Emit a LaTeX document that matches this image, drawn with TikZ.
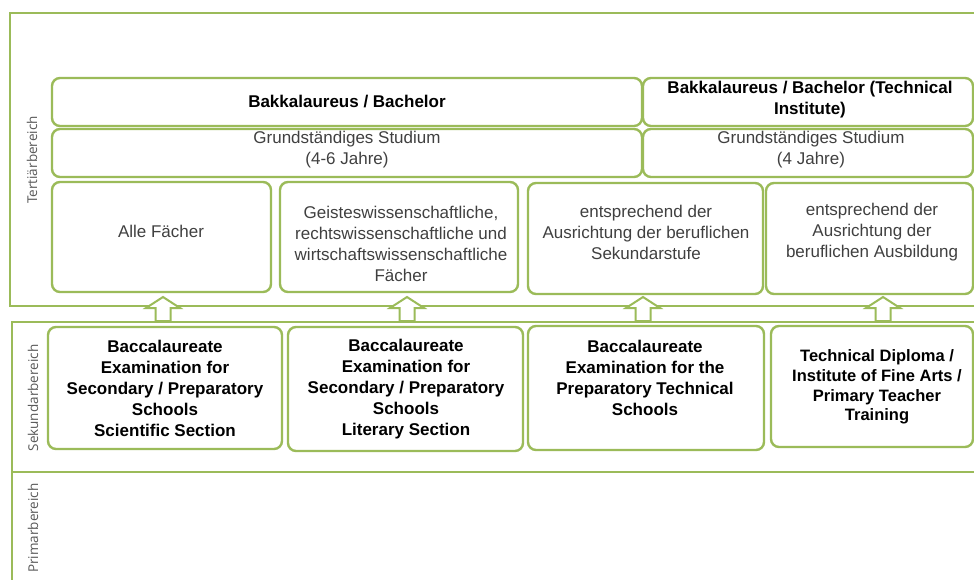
\documentclass[tikz,border=0pt]{standalone}
\usepackage{fontspec}
\setmainfont{Liberation Sans}
\newfontfamily\labelfont{Open Sans}
\definecolor{frameg}{RGB}{155,187,89}
\definecolor{txtg}{RGB}{64,64,64}
\definecolor{lblg}{RGB}{89,89,89}
\begin{document}
\begin{tikzpicture}[x=1pt,y=-1pt,
  frame/.style={draw=frameg,line width=2.6pt},
  rbox/.style={draw=frameg,line width=2.4pt,rounded corners=8pt,fill=white},
  plain/.style={align=center,text=txtg,font=\fontsize{17}{21}\selectfont,inner sep=0pt},
  boldt/.style={align=center,text=black,font=\fontsize{17}{21}\selectfont\bfseries,inner sep=0pt},
  side/.style={rotate=90,text=lblg,font=\labelfont\fontsize{13.5}{16}\selectfont,inner sep=0pt},
  uparrow/.style={draw=frameg,line width=2pt,fill=white,line join=miter}]
\clip (0,0) rectangle (974,579);
\fill[white] (0,0) rectangle (974,579);
% frames
\draw[frame] (990,13) -- (10,13) -- (10,306) -- (990,306);
\draw[frame] (990,322) -- (12,322) -- (12,590);
\draw[frame] (12,472) -- (990,472);
\node[side] (lt) at (32,160) {Tertiärbereich};
\node[side] (ls) at (33,398) {Sekundarbereich};
\node[side] (lp) at (33,528) {Primarbereich};
% tertiary boxes
\path[rbox] (52,78) rectangle (642,126);
\path[rbox] (643,78) rectangle (973,126);
\path[rbox] (52,129) rectangle (642,177);
\path[rbox] (643,129) rectangle (973,177);
\path[rbox] (52,182) rectangle (271,292);
\path[rbox] (280,182) rectangle (518,292);
\path[rbox] (528,183) rectangle (763,294);
\path[rbox] (766,183) rectangle (973,294);
\node[boldt] (b1) at (347,102) {Bakkalaureus / Bachelor};
\node[boldt] (b2) at (810,100) {Bakkalaureus / Bachelor (Technical\\Institute)};
\node[plain] (g1) at (347,150) {Grundständiges Studium\\(4-6 Jahre)};
\node[plain] (g2) at (811,150) {Grundständiges Studium\\(4 Jahre)};
\node[plain] (r1) at (161,231) {Alle Fächer};
\node[plain] (r2) at (401,244) {Geisteswissenschaftliche,\\rechtswissenschaftliche und\\wirtschaftswissenschaftliche\\Fächer};
\node[plain] (r3) at (646,232) {entsprechend der\\Ausrichtung der beruflichen\\Sekundarstufe};
\node[plain] (r4) at (872,232) {entsprechend der\\Ausrichtung der\\beruflichen Ausbildung};
% secondary boxes
\path[rbox] (48,327) rectangle (282,449);
\path[rbox] (288,327) rectangle (523,451);
\path[rbox] (528,326) rectangle (764,450);
\path[rbox] (771,326) rectangle (973,447);
\node[boldt] (s1) at (165,388) {Baccalaureate\\Examination for\\Secondary / Preparatory\\Schools\\Scientific Section};
\node[boldt] (s2) at (406,389) {Baccalaureate\\Examination for\\Secondary / Preparatory\\Schools\\Literary Section};
\node[boldt] (s3) at (645,378) {Baccalaureate\\Examination for the\\Preparatory Technical\\Schools};
\node[boldt,font=\fontsize{16.5}{19.7}\selectfont\bfseries] (s4) at (877,387) {Technical Diploma /\\Institute of Fine Arts /\\Primary Teacher\\Training};
% up arrows
\foreach \cx/\nm in {163/a1,407/a2,643/a3,883/a4}{
  \coordinate (\nm) at (\cx,309);
  \draw[uparrow] ([yshift=12pt]\nm) -- ([xshift=-17pt,yshift=1pt]\nm) -- ([xshift=-7.5pt,yshift=1pt]\nm) -- ([xshift=-7.5pt,yshift=-12pt]\nm) -- ([xshift=7.5pt,yshift=-12pt]\nm) -- ([xshift=7.5pt,yshift=1pt]\nm) -- ([xshift=17pt,yshift=1pt]\nm) -- cycle;
}
\end{tikzpicture}
\end{document}
